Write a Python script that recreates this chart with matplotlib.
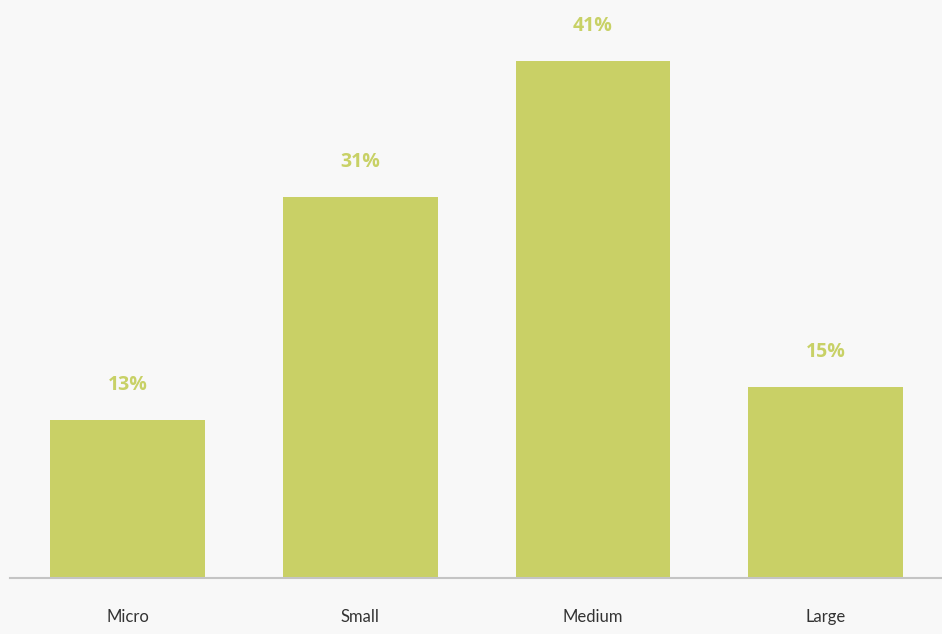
import matplotlib
matplotlib.use("Agg")
import matplotlib.pyplot as plt

categories = ["Micro", "Small", "Medium", "Large"]
values = [12.5, 30.2, 41.0, 15.1]
labels = ["13%", "31%", "41%", "15%"]

bg = "#f8f8f8"
bar_color = "#c9d066"

fig = plt.figure(figsize=(9.42, 6.34), dpi=100, facecolor=bg)
ax = fig.add_axes([10/942, (634-578)/634, 932/942, 578/634], facecolor=bg)

x = range(len(categories))
bars = ax.bar(x, values, width=0.665, color=bar_color)
for b, lab in zip(bars, labels):
    ax.annotate(lab, (b.get_x() + b.get_width()/2, b.get_height()),
                xytext=(0, 18), textcoords="offset points", ha="center", va="bottom",
                fontsize=14, fontweight="bold", color="#c8d166", family="Open Sans")

ax.set_xlim(-0.505, 3.5)
ax.set_ylim(0, 45.8)
ax.set_xticks(list(x))
ax.set_xticklabels(categories, fontsize=12, color="#333333", family="Lato")
ax.tick_params(axis="x", length=0, pad=22)
ax.set_yticks([])
for s in ["top", "right", "left"]:
    ax.spines[s].set_visible(False)
ax.spines["bottom"].set_color("#c4c4c4")
ax.spines["bottom"].set_linewidth(1.5)

fig.savefig("out.png", dpi=100, facecolor=bg)
